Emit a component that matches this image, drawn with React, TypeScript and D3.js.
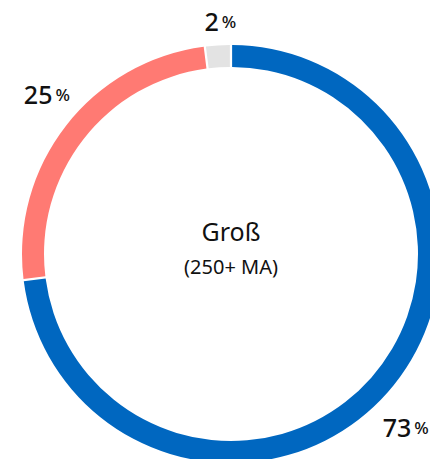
import React from "react";
import * as d3 from "d3";

const categories = ["Groß A", "Groß B", "Groß C"];
const values = [73, 25, 2];
const colors = ["#0067C0", "#FF7A73", "#E3E3E3"];
const labels = ["73", "25", "2"];
const title = "Groß";
const subtitle = "(250+ MA)";

const W = 430;
const H = 459;
const cx = 231;
const cy = 254;
const outerR = 209;
const innerR = 187;
const labelR = 233;

export default function App() {
  const pie = d3.pie<number>().sort(null).value((d) => d)(values);
  const arc = d3
    .arc<d3.PieArcDatum<number>>()
    .innerRadius(innerR)
    .outerRadius(outerR)
    .padAngle(0.008);
  const font = "'Noto Sans', sans-serif";
  return (
    <svg
      width={W}
      height={H}
      style={{ position: "absolute", left: 0, top: 0, background: "#fff" }}
    >
      <g transform={`translate(${cx},${cy})`}>
        {pie.map((p, i) => (
          <path key={categories[i]} d={arc(p) || ""} fill={colors[i]} />
        ))}
        {pie.map((p, i) => {
          const a = (p.startAngle + p.endAngle) / 2;
          const x = Math.sin(a) * labelR + (i === 2 ? 4 : 0);
          const y = -Math.cos(a) * labelR * (i === 2 ? 1.0 : 1.12);
          return (
            <text
              key={"l" + i}
              x={x}
              y={y}
              textAnchor="middle"
              dominantBaseline="central"
              fontFamily={font}
              fontWeight={500}
              fill="#111"
            >
              <tspan fontSize={25}>{labels[i]}</tspan>
              <tspan fontSize={17} dx={3}>%</tspan>
            </text>
          );
        })}
        <text
          x={0}
          y={-23}
          textAnchor="middle"
          dominantBaseline="central"
          fontFamily={font}
          fontSize={25}
          fill="#111"
        >
          {title}
        </text>
        <text
          x={0}
          y={12}
          textAnchor="middle"
          dominantBaseline="central"
          fontFamily={font}
          fontSize={20}
          fill="#111"
        >
          {subtitle}
        </text>
      </g>
    </svg>
  );
}
